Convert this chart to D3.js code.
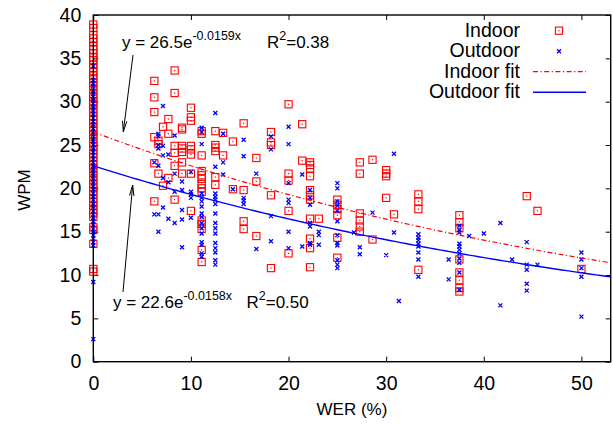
<!DOCTYPE html>
<html>
<head>
<meta charset="utf-8">
<script src="https://cdn.jsdelivr.net/npm/d3@7"></script>
<style>
  body { margin: 0; background: #fff; }
  svg { font-family: "Liberation Sans", Arial, sans-serif; }
</style>
</head>
<body>
<div id="chart"></div>
<script>
// WER columns (sentence level, so values cluster) and the WPM values seen at each one
const indoorWer = [0, 6.25, 6.67, 7.14, 7.69, 8.33, 9.09, 10, 11.1, 12.5, 13.3, 14.3, 15.4, 16.7, 18.2,
    20, 21.4, 22.2, 23.1, 25, 27.3, 28.6, 30, 30.8, 33.3, 37.5, 44.4, 45.5, 50];
const indoorWpm = [
    [38.9, 38.5, 37.7, 37.3, 36.9, 36.4, 36.0, 35.6, 35.1, 34.8, 34.3, 33.9, 33.4, 33.0, 32.7, 32.2, 31.8,
     31.4, 30.9, 30.5, 30.0, 29.7, 29.2, 28.8, 28.3, 27.9, 27.5, 27.0, 26.6, 26.2, 25.7, 25.3, 24.9, 24.4,
     24.0, 23.6, 23.1, 22.7, 22.3, 21.8, 21.4, 21.0, 20.5, 20.1, 19.7, 19.3, 18.8, 18.4, 18.0, 17.5, 17.1,
     16.7, 15.5, 15.2, 13.6, 10.7, 10.4],
    [32.4, 30.5, 28.8, 25.9, 22.9, 18.5],
    [25.5, 25.1, 21.7],
    [27.1, 20.3],
    [28.0, 26.3, 21.2],
    [33.6, 31.0, 24.9, 24.1, 22.6, 18.7],
    [27.0, 26.8, 24.9, 24.6, 24.2, 23.0, 21.7],
    [29.3, 28.2, 27.8, 24.9, 24.5, 23.9, 21.7, 17.4],
    [26.6, 26.3, 23.8, 22.0, 21.5, 21.1, 20.5, 20.0, 19.6, 16.3, 15.9, 15.3, 12.9, 11.5],
    [26.6, 25.0, 24.7, 24.3, 21.3, 20.4],
    [26.4, 23.8],
    [25.4, 19.9],
    [27.5, 19.8, 16.2, 15.3],
    [23.5, 20.8, 14.5],
    [26.5, 25.3, 25.0, 19.2, 10.8],
    [29.7, 21.7, 20.9, 17.4, 12.5],
    [27.4, 23.2],
    [23.0, 22.7, 22.3, 21.4, 19.8, 19.2, 18.7, 16.5, 14.2, 13.1, 10.9],
    [16.5],
    [18.7, 18.1, 17.6, 16.9, 14.3, 12.0],
    [23.0, 21.7, 17.1, 16.3, 15.6, 15.0],
    [23.3, 14.1],
    [22.1, 21.7, 21.4, 18.9],
    [17.0],
    [19.3, 18.5, 17.6, 10.6],
    [16.9, 16.1, 15.4, 11.8, 10.3, 9.4, 8.5, 8.1],
    [19.1],
    [17.4],
    [10.7]
];

const outdoorWer = [0, 6.25, 6.67, 7.14, 7.69, 8.33, 9.09, 10, 11.1, 12.5, 13.3, 14.3, 15.4, 16.7, 18.2,
    20, 21.4, 22.2, 23.1, 25, 26.7, 27.3, 28.6, 30, 30.8, 31.3, 33.3, 36.4, 37.5, 38.5, 40, 41.7, 42.9,
    44.4, 45.5, 50];
const outdoorWpm = [
    [34.1, 32.5, 32.1, 31.8, 31.3, 30.9, 30.6, 30.1, 29.8, 29.3, 28.9, 28.6, 28.1, 27.7, 27.4, 26.9, 26.5,
     26.2, 25.7, 25.4, 25.0, 24.5, 24.2, 23.8, 23.4, 23.0, 22.6, 22.2, 21.8, 21.4, 21.1, 20.6, 20.2, 19.9,
     19.4, 19.0, 18.7, 18.2, 17.9, 17.4, 17.0, 16.6, 16.2, 15.8, 15.3, 15.0, 14.6, 14.2, 13.8, 13.4, 9.2, 2.6],
    [23.0, 17.0],
    [26.3, 26.0, 25.0, 24.6, 22.6, 17.0, 15.0],
    [29.5, 24.9, 23.8, 21.2, 17.8],
    [23.9, 20.7, 16.5],
    [26.1, 21.7, 19.6, 16.0],
    [20.8, 19.8, 17.5, 16.4, 13.2],
    [21.9, 19.6, 19.3, 18.9, 16.6],
    [27.0, 26.5, 25.1, 19.4, 18.9, 18.5, 17.9, 17.1, 16.7, 16.0, 15.4, 14.8, 13.8, 13.5, 12.5, 12.1],
    [28.7, 22.5, 19.4, 19.0, 18.7, 18.2, 17.1, 16.0, 15.4, 14.8, 13.7, 13.1, 12.6, 11.7, 11.2],
    [26.3, 23.0, 21.6],
    [19.9],
    [25.6, 23.7, 18.9, 18.6, 18.2],
    [21.7, 13.0],
    [26.0, 24.5, 16.8, 13.9],
    [27.1, 25.1, 20.6, 18.7, 18.3, 15.0, 13.1],
    [21.6, 13.3],
    [19.8, 18.9, 18.1, 16.0, 15.6, 13.7, 13.5],
    [15.0, 14.6, 13.5],
    [20.6, 20.0, 18.5, 18.0, 17.4, 16.2, 14.6, 13.7, 13.4, 11.7, 11.2, 10.8],
    [14.9],
    [13.2, 12.4],
    [17.2],
    [12.3],
    [24.0, 14.9],
    [7.0],
    [14.7, 14.3, 14.0, 13.6, 13.3, 12.6, 11.8, 9.8],
    [11.8, 9.5],
    [15.7, 15.2, 14.9, 13.6, 13.3, 12.9, 12.5, 11.9, 11.4, 10.3, 8.3],
    [14.5],
    [14.8],
    [16.0, 6.5],
    [11.8],
    [13.8, 11.2, 10.6, 9.0, 8.2],
    [11.2],
    [12.6, 11.8, 10.8, 9.8, 5.2]
];

// exponential fits y = a * exp(b * x), as printed on the chart
const indoorFit = { a: 26.5, b: -0.0159, r2: "0.38" };
const outdoorFit = { a: 22.6, b: -0.0158, r2: "0.50" };

const xTicks = [0, 10, 20, 30, 40, 50];
const yTicks = [0, 5, 10, 15, 20, 25, 30, 35, 40];
const legendLabels = ["Indoor", "Outdoor", "Indoor fit", "Outdoor fit"];

const width = 613, height = 425;
const plotLeft = 93.3, plotRight = 610.7, plotTop = 15, plotBottom = 361.7;
const red = "#ff0000", blue = "#0000ff";

const svg = d3.select("#chart").append("svg")
    .attr("width", width)
    .attr("height", height);

const x = d3.scaleLinear().domain([0, 53]).range([plotLeft, plotRight]);
const y = d3.scaleLinear().domain([0, 40]).range([plotBottom, plotTop]);

function flatten(wers, wpms) {
    let pts = [];
    wers.forEach((w, i) => wpms[i].forEach(v => pts.push({ wer: w, wpm: v })));
    return pts;
}
const indoorPts = flatten(indoorWer, indoorWpm);
const outdoorPts = flatten(outdoorWer, outdoorWpm);

// ticks on all four sides, pointing inwards
function tickStyle(g) {
    g.select(".domain").remove();
    g.selectAll(".tick line").attr("stroke", "#000").attr("stroke-width", 1);
    g.selectAll(".tick text").attr("fill", "#000").attr("font-size", "19.5px");
}

svg.append("g")
    .attr("transform", `translate(0,${plotBottom})`)
    .call(d3.axisBottom(x).tickValues(xTicks).tickSizeInner(-5).tickSizeOuter(0).tickPadding(14.5))
    .call(tickStyle);
svg.append("g")
    .attr("transform", `translate(0,${plotTop})`)
    .call(d3.axisTop(x).tickValues(xTicks).tickSizeInner(-5).tickSizeOuter(0).tickFormat(""))
    .call(tickStyle);
svg.append("g")
    .attr("transform", `translate(${plotLeft},0)`)
    .call(d3.axisLeft(y).tickValues(yTicks).tickSizeInner(-5).tickSizeOuter(0).tickPadding(12))
    .call(tickStyle);
svg.append("g")
    .attr("transform", `translate(${plotRight},0)`)
    .call(d3.axisRight(y).tickValues(yTicks).tickSizeInner(-5).tickSizeOuter(0).tickFormat(""))
    .call(tickStyle);

// axis titles
svg.append("text")
    .attr("transform", "translate(30,190) rotate(-90)")
    .attr("text-anchor", "middle")
    .attr("font-size", "17px")
    .text("WPM");
svg.append("text")
    .attr("x", 352).attr("y", 415)
    .attr("text-anchor", "middle")
    .attr("font-size", "17px")
    .text("WER (%)");

const plot = svg.append("g");

function drawBox(sel) {
    sel.append("rect")
        .attr("x", -3.6).attr("y", -3.6)
        .attr("width", 7.2).attr("height", 7.2)
        .attr("fill", "none")
        .attr("stroke", red)
        .attr("stroke-width", 1.1);
    sel.append("rect")
        .attr("x", -0.6).attr("y", -0.6)
        .attr("width", 1.2).attr("height", 1.2)
        .attr("fill", red);
}

function drawCross(sel) {
    sel.append("path")
        .attr("d", "M-2,-2L2,2M-2,2L2,-2")
        .attr("stroke", blue)
        .attr("stroke-width", 1.3)
        .attr("fill", "none");
}

plot.selectAll("g.indoor")
    .data(indoorPts)
    .enter()
    .append("g")
    .attr("class", "indoor")
    .attr("transform", d => `translate(${x(d.wer)},${y(d.wpm)})`)
    .call(drawBox);

plot.selectAll("g.outdoor")
    .data(outdoorPts)
    .enter()
    .append("g")
    .attr("class", "outdoor")
    .attr("transform", d => `translate(${x(d.wer)},${y(d.wpm)})`)
    .call(drawCross);

// fit curves
const fitX = d3.range(0, 53.01, 0.5);
const fitLine = fit => d3.line()
    .x(d => x(d))
    .y(d => y(fit.a * Math.exp(fit.b * d)));

plot.append("path")
    .datum(fitX)
    .attr("d", fitLine(indoorFit))
    .attr("fill", "none")
    .attr("stroke", red)
    .attr("stroke-width", 1.2)
    .attr("stroke-dasharray", "5,2.5,1.2,2.5");

plot.append("path")
    .datum(fitX)
    .attr("d", fitLine(outdoorFit))
    .attr("fill", "none")
    .attr("stroke", blue)
    .attr("stroke-width", 1.4);

// frame
svg.append("rect")
    .attr("x", plotLeft).attr("y", plotTop)
    .attr("width", plotRight - plotLeft).attr("height", plotBottom - plotTop)
    .attr("fill", "none")
    .attr("stroke", "#000")
    .attr("stroke-width", 1.4);

// fit equations with arrows
function equation(ex, ey, rx, fit) {
    let t = svg.append("text")
        .attr("x", ex).attr("y", ey)
        .attr("font-size", "17px");
    t.append("tspan").text(`y = ${fit.a}e`);
    t.append("tspan").attr("dy", -8).attr("font-size", "12.5px").text(`${fit.b}x`);
    let r = svg.append("text")
        .attr("x", rx).attr("y", ey)
        .attr("font-size", "17px");
    r.append("tspan").text("R");
    r.append("tspan").attr("dy", -8).attr("font-size", "12.5px").text("2");
    r.append("tspan").attr("dy", 8).text(`=${fit.r2}`);
}
equation(122, 48, 267, indoorFit);
equation(113, 308, 246.5, outdoorFit);

function arrow(x1, y1, x2, y2) {
    svg.append("line")
        .attr("x1", x1).attr("y1", y1)
        .attr("x2", x2).attr("y2", y2)
        .attr("stroke", "#000")
        .attr("stroke-width", 1);
    let ang = Math.atan2(y2 - y1, x2 - x1);
    let len = 11, spread = 0.2;
    let p1 = [x2 - len * Math.cos(ang - spread), y2 - len * Math.sin(ang - spread)];
    let p2 = [x2 - len * Math.cos(ang + spread), y2 - len * Math.sin(ang + spread)];
    svg.append("path")
        .attr("d", `M${p1}L${x2},${y2}L${p2}`)
        .attr("fill", "none")
        .attr("stroke", "#000")
        .attr("stroke-width", 1);
}
arrow(133, 55, 123.3, 131.7);
arrow(123, 292, 132.7, 185);

// legend
const legend = svg.append("g");
legendLabels.forEach((label, i) => {
    let by = 36.7 + i * 20.5;
    legend.append("text")
        .attr("x", 520).attr("y", by)
        .attr("text-anchor", "end")
        .attr("font-size", "19.5px")
        .text(label);
    let cy = by - 6;
    if (i === 0) {
        legend.append("g").attr("transform", `translate(559,${cy})`).call(drawBox);
    } else if (i === 1) {
        legend.append("g").attr("transform", `translate(559,${cy})`).call(drawCross);
    } else {
        legend.append("line")
            .attr("x1", 533).attr("x2", 586)
            .attr("y1", cy).attr("y2", cy)
            .attr("stroke", i === 2 ? red : blue)
            .attr("stroke-width", i === 2 ? 1.2 : 1.4)
            .attr("stroke-dasharray", i === 2 ? "5,2.5,1.2,2.5" : null);
    }
});
</script>
</body>
</html>
